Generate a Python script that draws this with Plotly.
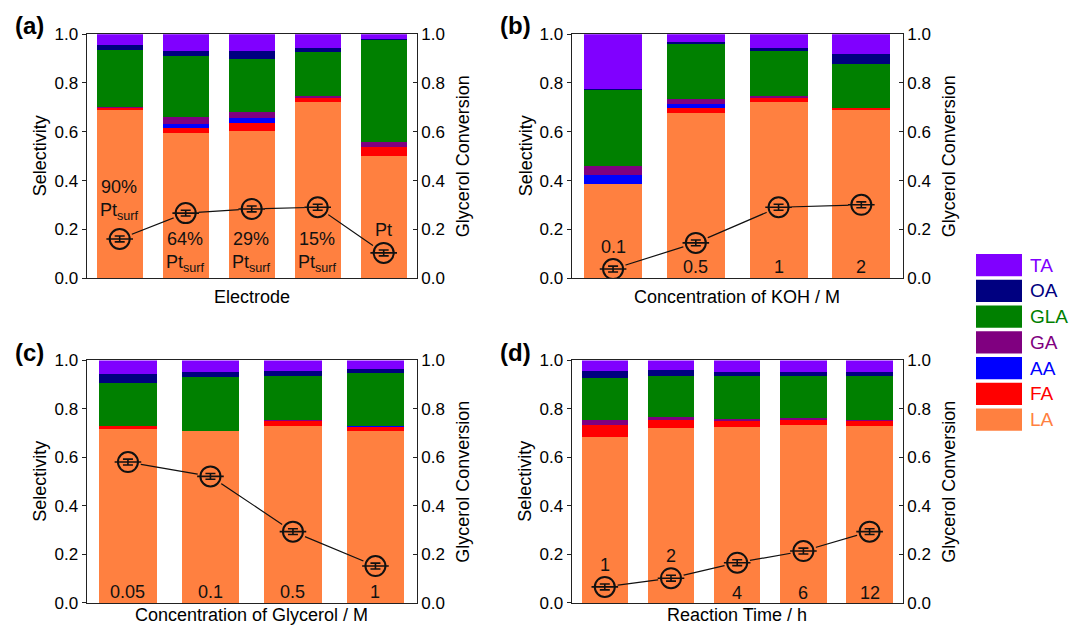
import plotly.graph_objects as go

W, H = 1070, 631

species = ["LA", "FA", "AA", "GA", "GLA", "OA", "TA"]
colors = ["#FF8040", "#FF0000", "#0000FF", "#800080", "#008000", "#000080", "#8000FF"]

# ---- panel (a): Electrode ----
a_labels = ["90%<br>Pt<sub>surf</sub>", "64%<br>Pt<sub>surf</sub>", "29%<br>Pt<sub>surf</sub>",
            "15%<br>Pt<sub>surf</sub>", "Pt"]
a_LA = [0.690, 0.595, 0.604, 0.724, 0.499]
a_FA = [0.007, 0.022, 0.033, 0.017, 0.037]
a_AA = [0.000, 0.016, 0.018, 0.000, 0.000]
a_GA = [0.004, 0.026, 0.027, 0.007, 0.023]
a_GLA = [0.235, 0.251, 0.217, 0.181, 0.418]
a_OA = [0.020, 0.022, 0.033, 0.015, 0.004]
a_TA = [0.044, 0.068, 0.068, 0.056, 0.019]
a_conv = [0.161, 0.267, 0.284, 0.291, 0.104]

# ---- panel (b): KOH ----
b_labels = ["0.1", "0.5", "1", "2"]
b_LA = [0.387, 0.677, 0.724, 0.692]
b_FA = [0.000, 0.019, 0.017, 0.006]
b_AA = [0.036, 0.017, 0.000, 0.000]
b_GA = [0.038, 0.021, 0.007, 0.000]
b_GLA = [0.310, 0.224, 0.182, 0.179]
b_OA = [0.005, 0.011, 0.014, 0.040]
b_TA = [0.224, 0.031, 0.056, 0.083]
b_conv = [0.038, 0.145, 0.291, 0.301]

# ---- panel (c): Glycerol ----
c_labels = ["0.05", "0.1", "0.5", "1"]
c_LA = [0.717, 0.709, 0.731, 0.709]
c_FA = [0.012, 0.000, 0.019, 0.016]
c_AA = [0.000, 0.000, 0.000, 0.006]
c_GA = [0.000, 0.000, 0.005, 0.000]
c_GLA = [0.180, 0.222, 0.183, 0.217]
c_OA = [0.036, 0.020, 0.017, 0.016]
c_TA = [0.055, 0.049, 0.045, 0.036]
c_conv = [0.581, 0.522, 0.294, 0.152]

# ---- panel (d): Reaction time ----
d_labels = ["1", "2", "4", "6", "12"]
d_LA = [0.685, 0.720, 0.724, 0.734, 0.731]
d_FA = [0.049, 0.035, 0.026, 0.021, 0.018]
d_AA = [0.000, 0.000, 0.000, 0.000, 0.000]
d_GA = [0.020, 0.010, 0.008, 0.007, 0.006]
d_GLA = [0.175, 0.173, 0.179, 0.176, 0.183]
d_OA = [0.027, 0.021, 0.015, 0.015, 0.015]
d_TA = [0.044, 0.041, 0.048, 0.047, 0.047]
d_conv = [0.066, 0.102, 0.166, 0.214, 0.294]

conv_err = 0.012

# layout-only positions for in-bar labels (data units)
a_label_y = [0.32, 0.108, 0.108, 0.108, 0.198]
b_label_y = [0.13, 0.045, 0.045, 0.045]
c_label_y = [0.045, 0.045, 0.045, 0.045]
d_label_y = [0.155, 0.194, 0.041, 0.041, 0.041]

FONT = "Liberation Sans, Arial, sans-serif"
AXC = "#222222"

# vertical calibration of the photographed page (observed: shown_y = 0.971*y + 8.1)
CAL_A, CAL_B = 0.971, 8.1


def px_x(v):
    return v / W


def px_y(v):
    """target pixel row (from top) -> paper fraction, compensating the capture mapping"""
    spec = (v - CAL_B) / CAL_A
    return 1 - spec / H


panels = [
    dict(tag="(a)", xa="x", yl="y", yr="y2", labels=a_labels, label_y=a_label_y,
         sel=[a_LA, a_FA, a_AA, a_GA, a_GLA, a_OA, a_TA], conv=a_conv,
         xdom=(86.7, 416.7), ydom=(33.3, 277.7), xtitle="Electrode", xtitle_y=296,
         ltitle_x=40, rtitle_x=463, tag_x=13, tag_y=25),
    dict(tag="(b)", xa="x2", yl="y3", yr="y4", labels=b_labels, label_y=b_label_y,
         sel=[b_LA, b_FA, b_AA, b_GA, b_GLA, b_OA, b_TA], conv=b_conv,
         xdom=(571.7, 902.7), ydom=(33.3, 277.7), xtitle="Concentration of KOH / M", xtitle_y=296,
         ltitle_x=526, rtitle_x=949, tag_x=498, tag_y=25),
    dict(tag="(c)", xa="x3", yl="y5", yr="y6", labels=c_labels, label_y=c_label_y,
         sel=[c_LA, c_FA, c_AA, c_GA, c_GLA, c_OA, c_TA], conv=c_conv,
         xdom=(86.7, 416.7), ydom=(360.0, 602.7), xtitle="Concentration of Glycerol / M",
         xtitle_y=615, ltitle_x=40, rtitle_x=463, tag_x=13, tag_y=352),
    dict(tag="(d)", xa="x4", yl="y7", yr="y8", labels=d_labels, label_y=d_label_y,
         sel=[d_LA, d_FA, d_AA, d_GA, d_GLA, d_OA, d_TA], conv=d_conv,
         xdom=(571.7, 902.7), ydom=(360.0, 602.7), xtitle="Reaction Time / h", xtitle_y=615,
         ltitle_x=525, rtitle_x=949, tag_x=498, tag_y=352),
]

fig = go.Figure()
annotations = []
shapes = []
layout = dict()


def axname(a, kind):
    return kind + "axis" + a[1:]


def txt(x, y, text, size, color="#000000", angle=0, xanchor="center", xref="paper", yref="paper",
        align="center"):
    return dict(x=x, y=y, xref=xref, yref=yref, text=text, showarrow=False, textangle=angle,
                xanchor=xanchor, yanchor="middle", align=align,
                font=dict(size=size, color=color, family=FONT))


for p in panels:
    n = len(p["conv"])
    xs = list(range(n))
    for sp, col, vals in zip(species, colors, p["sel"]):
        fig.add_trace(go.Bar(x=xs, y=vals, name=sp, marker=dict(color=col, line=dict(width=0)),
                             width=0.7, xaxis=p["xa"], yaxis=p["yl"], showlegend=False))
    fig.add_trace(go.Scatter(x=xs, y=p["conv"], mode="lines", line=dict(color="#111111", width=1.2),
                             xaxis=p["xa"], yaxis=p["yr"], showlegend=False))
    fig.add_trace(go.Scatter(x=xs, y=p["conv"], mode="markers",
                             marker=dict(symbol="circle", size=26, color=colors[0], line=dict(width=0)),
                             xaxis=p["xa"], yaxis=p["yr"], showlegend=False))
    fig.add_trace(go.Scatter(x=xs, y=p["conv"], mode="markers",
                             marker=dict(symbol="circle-open", size=20, color="#111111",
                                         line=dict(width=2, color="#111111")),
                             error_y=dict(type="constant", value=conv_err, color="#111111",
                                          thickness=1.6, width=5),
                             xaxis=p["xa"], yaxis=p["yr"], showlegend=False))
    fig.add_trace(go.Scatter(x=xs, y=p["conv"], mode="markers",
                             marker=dict(symbol="line-ew", size=19,
                                         line=dict(width=1.6, color="#111111")),
                             xaxis=p["xa"], yaxis=p["yr"], showlegend=False))

    xd = [px_x(p["xdom"][0]), px_x(p["xdom"][1])]
    yd = [px_y(p["ydom"][1]), px_y(p["ydom"][0])]
    layout[axname(p["xa"], "x")] = dict(domain=xd, range=[-0.5, n - 0.5], anchor=p["yl"],
                                        showline=True, mirror=True, linecolor=AXC, linewidth=1.3,
                                        showticklabels=False, ticks="", showgrid=False, zeroline=False,
                                        fixedrange=True)
    tv = [0, 0.2, 0.4, 0.6, 0.8, 1.0]
    layout[axname(p["yl"], "y")] = dict(domain=yd, range=[0, 1], anchor=p["xa"], side="left",
                                        tickvals=tv, tickformat=".1f", ticks="outside", ticklen=4,
                                        tickcolor=AXC, showline=True, linecolor=AXC, linewidth=1.3,
                                        showgrid=False, zeroline=False,
                                        tickfont=dict(size=17, color="#000000", family=FONT))
    layout[axname(p["yr"], "y")] = dict(domain=yd, range=[0, 1], anchor=p["xa"], side="right",
                                        overlaying=p["yl"], tickvals=tv, tickformat=".1f",
                                        ticks="inside", ticklen=4, tickcolor=AXC, showline=True,
                                        linecolor=AXC, linewidth=1.3, showgrid=False, zeroline=False,
                                        tickfont=dict(size=17, color="#000000", family=FONT))

    for i, (lab, ly) in enumerate(zip(p["labels"], p["label_y"])):
        annotations.append(txt(i, ly, lab, 18, color="#111111", xref=p["xa"], yref=p["yl"]))
    ymid = (p["ydom"][0] + p["ydom"][1]) / 2
    xmid = (p["xdom"][0] + p["xdom"][1]) / 2
    annotations.append(txt(px_x(p["ltitle_x"]), px_y(ymid), "Selectivity", 18, angle=-90))
    annotations.append(txt(px_x(p["rtitle_x"]), px_y(ymid), "Glycerol Conversion", 18, angle=-90))
    annotations.append(txt(px_x(xmid), px_y(p["xtitle_y"]), p["xtitle"], 18))
    annotations.append(txt(px_x(p["tag_x"]), px_y(p["tag_y"]), "<b>" + p["tag"] + "</b>", 24,
                           xanchor="left"))

leg_top, leg_step, leg_h = 253.3, 25.8, 22.3
for k, (sp, col) in enumerate(zip(species[::-1], colors[::-1])):
    y0 = leg_top + k * leg_step
    shapes.append(dict(type="rect", xref="paper", yref="paper",
                       x0=px_x(976), x1=px_x(1022), y0=px_y(y0 + leg_h), y1=px_y(y0),
                       fillcolor=col, line=dict(width=0)))
    annotations.append(txt(px_x(1028), px_y(y0 + leg_h / 2), sp, 19, color=col, xanchor="left"))

fig.update_layout(width=W, height=H, autosize=False, margin=dict(l=0, r=0, t=0, b=0),
                  barmode="stack", bargap=0.3, plot_bgcolor="white", paper_bgcolor="white",
                  showlegend=False, annotations=annotations, shapes=shapes,
                  font=dict(family=FONT), **layout)

fig.write_html("out.html", config={"displayModeBar": False},
               post_script="document.body.style.margin='0px';document.body.style.overflow='hidden';")
